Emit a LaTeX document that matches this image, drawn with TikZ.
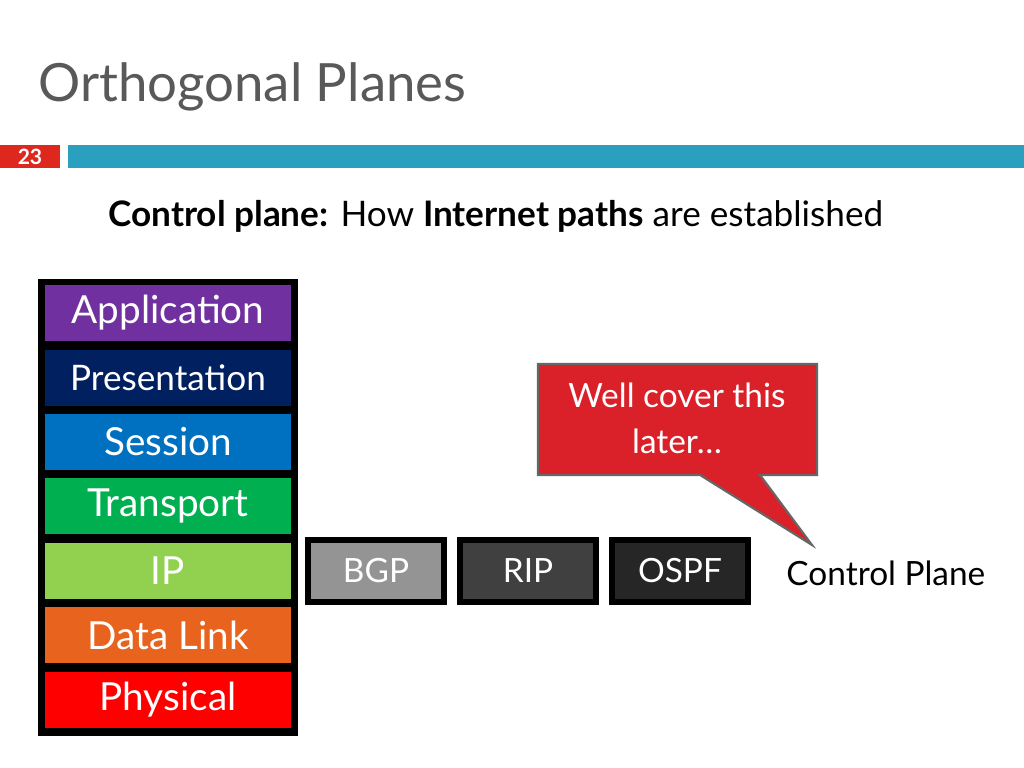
\documentclass[tikz,border=0pt]{standalone}
\usepackage{fontspec}
\setmainfont{Lato}
\usetikzlibrary{positioning}
\definecolor{titlegray}{RGB}{89,89,89}
\definecolor{barblue}{RGB}{42,160,190}
\definecolor{numred}{RGB}{222,40,30}
\definecolor{appcol}{RGB}{112,48,160}
\definecolor{prescol}{RGB}{0,32,96}
\definecolor{sesscol}{RGB}{0,112,192}
\definecolor{transcol}{RGB}{0,176,80}
\definecolor{ipcol}{RGB}{146,208,80}
\definecolor{linkcol}{RGB}{232,100,30}
\definecolor{physcol}{RGB}{255,0,0}
\definecolor{calloutred}{RGB}{218,32,40}
\tikzset{
  layer/.style={draw=black, line width=1.2pt, minimum width=2.5cm, minimum height=0.6cm,
    inner sep=0pt, text=white, font=\fontsize{11}{11}\selectfont},
  proto/.style={draw=black, line width=1.6pt, minimum width=1.36cm, minimum height=0.62cm,
    inner sep=0pt, text=white, font=\fontsize{9.5}{9.5}\selectfont}
}
\begin{document}
\begin{tikzpicture}[x=0.01cm,y=-0.01cm]
  \useasboundingbox (0,0) rectangle (1024,768);
  % title and bar
  \node[anchor=base west, text=titlegray, font=\fontsize{15}{15}\selectfont] (title) at (26,102) {Orthogonal Planes};
  \fill[numred] (0,145) rectangle (60,168);
  \node[text=white, font=\bfseries\fontsize{6}{6}\selectfont] (num) at (30,156.5) {23};
  \fill[barblue] (68,145) rectangle (1024,168);
  \node[anchor=base west, font=\fontsize{10}{10}\selectfont] (sub) at (96,227)
    {\textbf{Control plane:} How \textbf{Internet paths} are established};
  % layer stack
  \fill[black] (38,279) rectangle (298,736);
  \node[layer, fill=appcol] (app) at (168,313) {Application};
  \node[layer, fill=prescol, font=\fontsize{10}{10}\selectfont] (pres) at (168,378) {Presentation};
  \node[layer, fill=sesscol] (sess) at (168,442) {Session};
  \node[layer, fill=transcol] (trans) at (168,506) {Transport};
  \node[layer, fill=ipcol] (ip) at (168,571) {IP};
  \node[layer, fill=linkcol] (link) at (168,635) {Data Link};
  \node[layer, fill=physcol] (phys) at (168,700) {Physical};
  % protocols
  \node[proto, fill=black!42] (bgp) at (376,571) {BGP};
  \node[proto, fill=black!75] (rip) at (528,571) {RIP};
  \node[proto, fill=black!85] (ospf) at (680,571) {OSPF};
  \node[anchor=west, font=\fontsize{9.5}{9.5}\selectfont] (cp) at (774,573) {Control Plane};
  % callout
  \draw[fill=calloutred, draw=black!60, line width=0.6pt]
    (538,364) -- (817,364) -- (817,475) -- (760,475) -- (812,545) -- (700,475) -- (538,475) -- cycle;
  \node[text=white, align=center, font=\fontsize{9.5}{13}\selectfont] (note) at (677,418)
    {Well cover this\\later\dots};
\end{tikzpicture}
\end{document}
